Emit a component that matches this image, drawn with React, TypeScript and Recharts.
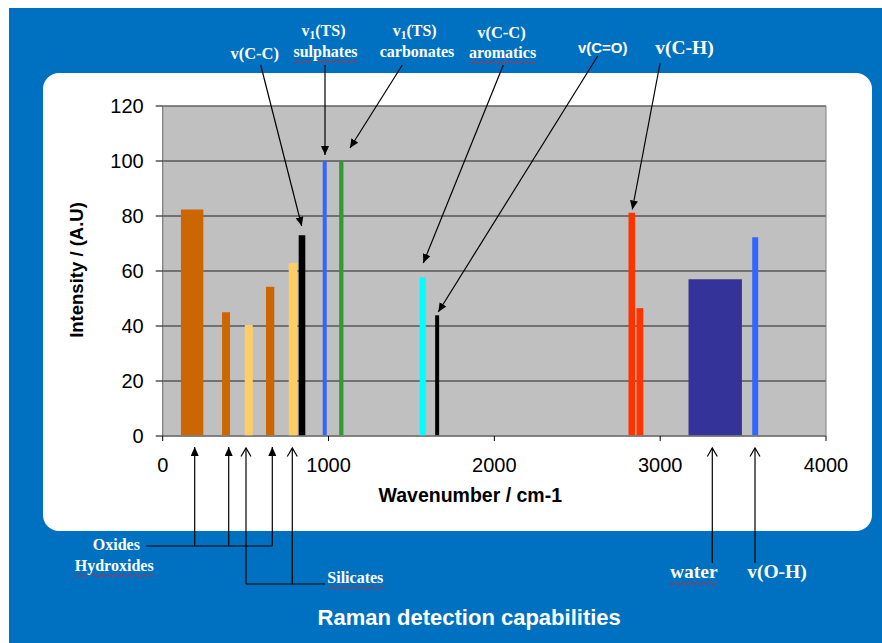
import React from 'react';
import { ComposedChart, XAxis, YAxis, CartesianGrid, ReferenceArea, Scatter } from 'recharts';

// Raman bands: start / end wavenumber (cm-1) and intensity (A.U)
const bandStart = [110, 358, 495, 623, 760, 820, 965, 1064, 1550, 1643, 2809, 2857, 3171, 3555];
const bandEnd = [245, 406, 543, 673, 812, 860, 989, 1090, 1587, 1667, 2849, 2898, 3493, 3591];
const bandIntensity = [82.4, 45, 40.4, 54.3, 62.9, 73, 100, 100, 57.7, 43.9, 81.2, 46.5, 57, 72.3];
const bandColor = ['#CC6600', '#CC6600', '#FFCC66', '#CC6600', '#FFCC66', '#000000', '#3366FF', '#339933', '#00FFFF', '#000000', '#FF3300', '#FF3300', '#333399', '#3366FF'];

const xTicks = [0, 1000, 2000, 3000, 4000];
const yTicks = [0, 20, 40, 60, 80, 100, 120];

const bands = bandStart.map((s, i) => ({
  start: s,
  end: bandEnd[i],
  mid: (s + bandEnd[i]) / 2,
  intensity: bandIntensity[i],
  color: bandColor[i],
}));

const SANS = '"Liberation Sans", Arial, Helvetica, sans-serif';
const SERIF = '"Liberation Serif", "Times New Roman", Times, serif';

type LblProps = { x: number; y: number; children: React.ReactNode; wavy?: boolean; sans?: boolean; size?: number };
const Lbl = ({ x, y, children, wavy, sans, size }: LblProps) => (
  <div
    style={{
      position: 'absolute',
      left: x,
      top: y,
      transform: 'translate(-50%,-50%)',
      color: '#ffffff',
      fontFamily: sans ? SANS : SERIF,
      fontWeight: 'bold',
      fontSize: size || 16,
      lineHeight: 1,
      whiteSpace: 'nowrap',
      textDecorationLine: wavy ? 'underline' : 'none',
      textDecorationStyle: 'wavy',
      textDecorationColor: '#e02020',
      textDecorationThickness: '1px',
      textUnderlineOffset: '2px',
    }}
  >
    {children}
  </div>
);

const Sub1 = () => <span style={{ fontSize: '0.72em', position: 'relative', top: '0.22em' }}>1</span>;

type ArrowProps = { x1: number; y1: number; x2: number; y2: number; open?: boolean };
const Arrow = ({ x1, y1, x2, y2, open }: ArrowProps) => (
  <line x1={x1} y1={y1} x2={x2} y2={y2} stroke="#000" strokeWidth={1.2} markerEnd={open ? 'url(#openHead)' : 'url(#fillHead)'} />
);

export default function App() {
  return (
    <div style={{ position: 'fixed', left: 0, top: 0, width: 882, height: 643, overflow: 'hidden' }}>
      <div style={{ position: 'absolute', left: 9, top: 8, width: 873, height: 635, background: '#0070C0' }} />
      <div style={{ position: 'absolute', left: 43, top: 73, width: 829, height: 458, background: '#ffffff', borderRadius: 16 }} />
      <div style={{ position: 'absolute', left: 0, top: 0 }}>
        <ComposedChart width={882} height={643} data={bands} margin={{ top: 106, right: 56, bottom: 0, left: 0 }}>
          <CartesianGrid vertical={false} fill="#C0C0C0" fillOpacity={1} stroke="#222222" strokeWidth={1} />
          <XAxis
            dataKey="mid"
            type="number"
            domain={[0, 4000]}
            ticks={xTicks}
            height={207}
            tickSize={5}
            tickMargin={17}
            axisLine={{ stroke: '#808080' }}
            tickLine={{ stroke: '#000' }}
            tick={{ fill: '#000', fontSize: 20, fontFamily: SANS }}
            interval={0}
          />
          <YAxis
            type="number"
            domain={[0, 120]}
            ticks={yTicks}
            width={162.7}
            tickSize={7}
            tickMargin={12}
            axisLine={{ stroke: '#808080' }}
            tickLine={{ stroke: '#000' }}
            tick={{ fill: '#000', fontSize: 20, fontFamily: SANS }}
            interval={0}
          />
          {bands.map((b, i) => (
            <ReferenceArea key={i} x1={b.start} x2={b.end} y1={0} y2={b.intensity} fill={b.color} fillOpacity={1} stroke="none" />
          ))}
          <ReferenceArea x1={0} x2={4000} y1={0} y2={120} fill="none" stroke="#808080" strokeWidth={1} />
          <Scatter dataKey="intensity" isAnimationActive={false} shape={() => <g />} legendType="none" />
        </ComposedChart>
      </div>
      <svg width={882} height={643} style={{ position: 'absolute', left: 0, top: 0, pointerEvents: 'none' }}>
        <defs>
          <marker id="fillHead" viewBox="0 0 9 8" refX={9} refY={4} markerWidth={9} markerHeight={8} orient="auto" markerUnits="userSpaceOnUse">
            <path d="M0,0 L9,4 L0,8 z" fill="#000" />
          </marker>
          <marker id="openHead" viewBox="-1 -1 11 13" refX={8.5} refY={5.5} markerWidth={11} markerHeight={13} orient="auto" markerUnits="userSpaceOnUse" overflow="visible">
            <path d="M0,0.5 L8.5,5.5 L0,10.5" fill="none" stroke="#000" strokeWidth={1.2} />
          </marker>
        </defs>
        {/* top annotations */}
        <Arrow x1={260.7} y1={65} x2={301.7} y2={226} />
        <Arrow x1={325} y1={65} x2={325} y2={155} />
        <Arrow x1={402.3} y1={65} x2={350} y2={148} />
        <Arrow x1={503.3} y1={65} x2={423.3} y2={263} />
        <Arrow x1={597.7} y1={56} x2={438.3} y2={312} />
        <Arrow x1={660} y1={63.5} x2={632.3} y2={209.5} />
        {/* oxides / hydroxides */}
        <line x1={146.3} y1={546} x2={272.3} y2={546} stroke="#000" strokeWidth={1.2} />
        <Arrow x1={194.7} y1={546} x2={194.7} y2={447} />
        <Arrow x1={228.7} y1={546} x2={228.7} y2={447} />
        <Arrow x1={272.3} y1={546} x2={272.3} y2={447} />
        {/* silicates */}
        <line x1={246} y1={584} x2={325} y2={584} stroke="#000" strokeWidth={1.2} />
        <Arrow x1={246} y1={584} x2={246} y2={448} open />
        <Arrow x1={292.3} y1={584} x2={292.3} y2={448} open />
        {/* water / O-H */}
        <Arrow x1={712.3} y1={563} x2={712.3} y2={448} open />
        <Arrow x1={755} y1={563} x2={755} y2={448} open />
        {/* axis titles */}
        <text x={470.3} y={495} textAnchor="middle" dominantBaseline="central" fontFamily={SANS} fontWeight="bold" fontSize={19.5} fill="#000">
          Wavenumber / cm-1
        </text>
        <text transform="translate(76,270) rotate(-90)" textAnchor="middle" dominantBaseline="central" fontFamily={SANS} fontWeight="bold" fontSize={18.5} fill="#000">
          Intensity / (A.U)
        </text>
        <text x={469.2} y={617} textAnchor="middle" dominantBaseline="central" fontFamily={SANS} fontWeight="bold" fontSize={22} fill="#ffffff">
          Raman detection capabilities
        </text>
      </svg>
      <Lbl x={254.7} y={54} size={16.5}>v(C-C)</Lbl>
      <Lbl x={323.5} y={31}>v<Sub1 />(TS)</Lbl>
      <Lbl x={325.5} y={51.5} wavy>sulphates</Lbl>
      <Lbl x={414.7} y={31}>v<Sub1 />(TS)</Lbl>
      <Lbl x={417} y={51.5}>carbonates</Lbl>
      <Lbl x={501.5} y={33} size={16.5}>v(C-C)</Lbl>
      <Lbl x={502.5} y={52.5} wavy>aromatics</Lbl>
      <Lbl x={602.7} y={47.3} sans size={15}>v(C=O)</Lbl>
      <Lbl x={684.5} y={48.3} size={19.5}>v(C-H)</Lbl>
      <Lbl x={116.3} y={545}>Oxides</Lbl>
      <Lbl x={114.2} y={565.5} wavy>Hydroxides</Lbl>
      <Lbl x={355.3} y={578.3} wavy>Silicates</Lbl>
      <Lbl x={693.8} y={572.3} wavy size={19.5}>water</Lbl>
      <Lbl x={777} y={572} size={19.5}>v(O-H)</Lbl>
    </div>
  );
}
